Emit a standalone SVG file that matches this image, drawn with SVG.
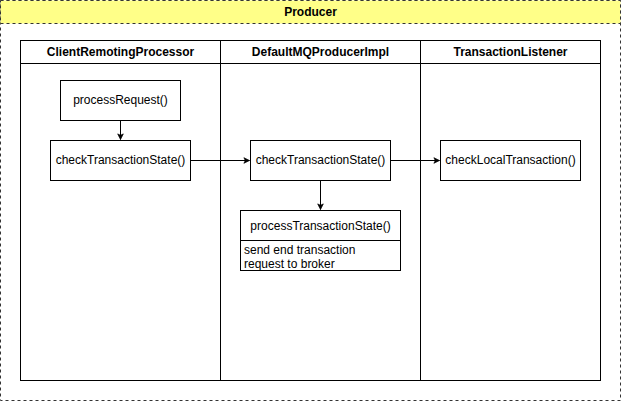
<svg xmlns="http://www.w3.org/2000/svg" width="621" height="401" viewBox="0 0 621 401">
<style>
text{font-family:"Liberation Sans",Arial,Helvetica,sans-serif;font-size:12px;fill:#000}
.b{font-weight:bold}
.box{fill:#fff;stroke:#000;stroke-width:1}
.ln{fill:none;stroke:#000;stroke-width:1}
</style>
<defs>
<marker id="ah" viewBox="0 0 10 10" refX="9" refY="5" markerWidth="7" markerHeight="7" markerUnits="userSpaceOnUse" orient="auto">
<path d="M1,1 L9,5 L1,9 L3,5 Z" fill="#000" stroke="#000"/>
</marker>
</defs>
<rect width="621" height="401" fill="#fff"/>
<g id="producer">
<rect x="0.5" y="0.5" width="620" height="400" fill="#fff" stroke="#333" stroke-dasharray="3 3"/>
<rect x="0.5" y="0.5" width="620" height="23" fill="#ffff88" stroke="#333" stroke-dasharray="3 3"/>
<text class="b" x="310.5" y="16" text-anchor="middle">Producer</text>
</g>
<g id="lanes">
<rect class="box" x="20.5" y="40.5" width="580" height="340"/>
<line class="ln" x1="20.5" y1="63.5" x2="600.5" y2="63.5"/>
<line class="ln" x1="220.5" y1="40.5" x2="220.5" y2="380.5"/>
<line class="ln" x1="420.5" y1="40.5" x2="420.5" y2="380.5"/>
<text class="b" x="120.5" y="56" text-anchor="middle">ClientRemotingProcessor</text>
<text class="b" x="320.5" y="56" text-anchor="middle">DefaultMQProducerImpl</text>
<text class="b" x="510.5" y="56" text-anchor="middle">TransactionListener</text>
</g>
<g id="processRequest">
<rect class="box" x="60.5" y="80.5" width="120" height="40"/>
<text x="120.5" y="104" text-anchor="middle">processRequest()</text>
</g>
<g id="checkTransactionState1">
<rect class="box" x="50.5" y="140.5" width="140" height="40"/>
<text x="120.5" y="164" text-anchor="middle">checkTransactionState()</text>
</g>
<g id="checkTransactionState2">
<rect class="box" x="250.5" y="140.5" width="140" height="40"/>
<text x="320.5" y="164" text-anchor="middle">checkTransactionState()</text>
</g>
<g id="checkLocalTransaction">
<rect class="box" x="440.5" y="140.5" width="140" height="40"/>
<text x="510.5" y="164" text-anchor="middle">checkLocalTransaction()</text>
</g>
<g id="processTransactionState">
<rect class="box" x="240.5" y="210.5" width="160" height="60"/>
<line class="ln" x1="240.5" y1="240.5" x2="400.5" y2="240.5"/>
<text x="320.5" y="230" text-anchor="middle">processTransactionState()</text>
<text x="244" y="254">send end transaction</text>
<text x="244" y="268">request to broker</text>
</g>
<g id="connectors">
<line class="ln" x1="120.5" y1="120.5" x2="120.5" y2="139.5" marker-end="url(#ah)"/>
<line class="ln" x1="190.5" y1="160.5" x2="249.5" y2="160.5" marker-end="url(#ah)"/>
<line class="ln" x1="390.5" y1="160.5" x2="439.5" y2="160.5" marker-end="url(#ah)"/>
<line class="ln" x1="320.5" y1="180.5" x2="320.5" y2="209.5" marker-end="url(#ah)"/>
</g>
</svg>
